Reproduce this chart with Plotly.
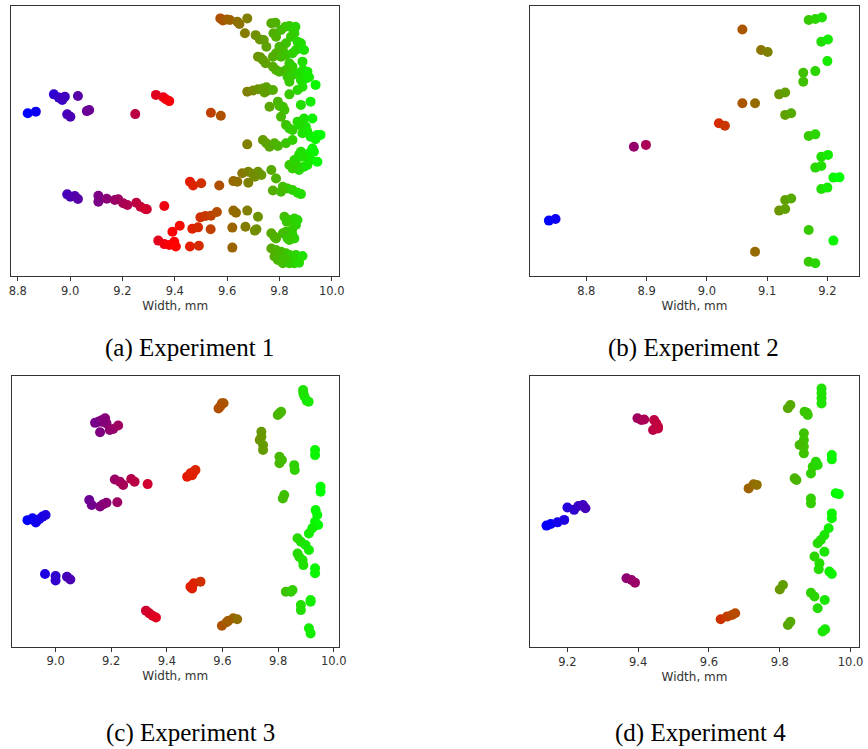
import plotly.graph_objects as go

# ---------------- data ----------------
# Experiment 1
x1 = [8.838, 8.869, 8.938, 8.957, 8.970, 8.980, 9.030, 8.989, 9.001, 9.064, 9.073, 9.249,
      9.328, 9.356, 9.366, 9.379, 9.538, 9.576,
      8.989, 9.001, 9.018, 9.030, 9.108, 9.108, 9.140, 9.171, 9.184, 9.203, 9.219, 9.253,
      9.269, 9.287, 9.293, 9.360,
      9.337, 9.360, 9.379, 9.398, 9.404, 9.391, 9.419, 9.458, 9.492, 9.467, 9.489, 9.537,
      9.498, 9.517, 9.538, 9.561, 9.458, 9.470, 9.501, 9.570,
      9.624, 9.634, 9.677, 9.620, 9.670, 9.706, 9.712, 9.620, 9.718,
      9.624, 9.639, 9.681, 9.658, 9.681, 9.699, 9.718, 9.731, 9.706, 9.769,
      9.787, 9.813, 9.831, 9.850, 9.869, 9.882, 9.775, 9.806,
      9.677, 9.737, 9.750, 9.762, 9.781, 9.794, 9.825,
      9.838, 9.857, 9.875, 9.882, 9.901, 9.913, 9.926, 9.932, 9.919, 9.945, 9.894, 9.875,
      9.863, 9.907, 9.888, 9.850,
      9.838, 9.794, 9.800, 9.813, 9.762, 9.819, 9.882, 9.919, 9.806, 9.825, 9.838, 9.850,
      9.869, 9.875, 9.894, 9.901, 9.926, 9.888, 9.907, 9.919, 9.945, 9.957, 9.938, 9.850,
      9.882,
      9.677, 9.699, 9.718, 9.737, 9.750, 9.756, 9.775, 9.743,
      9.769, 9.785, 9.777, 9.787, 9.806, 9.823, 9.838, 9.850, 9.861, 9.857, 9.844, 9.869,
      9.882, 9.825, 9.800, 9.813, 9.787, 9.775, 9.806, 9.825, 9.850, 9.863, 9.894, 9.838,
      9.850, 9.825, 9.787, 9.800, 9.775, 9.831, 9.850, 9.875, 9.888, 9.890, 9.907, 9.882,
      9.901, 9.913, 9.888, 9.869, 9.938, 9.838,
      9.574, 9.584, 9.599, 9.611, 9.639, 9.647, 9.677, 9.668, 9.709, 9.725, 9.740, 9.750,
      9.718, 9.727, 9.737, 9.747,
      9.819, 9.828, 9.838, 9.857, 9.869, 9.863, 9.848, 9.825, 9.813, 9.850, 9.831, 9.857,
      9.838, 9.769, 9.781, 9.787,
      9.769, 9.787, 9.806, 9.825, 9.838, 9.850, 9.863, 9.888, 9.781, 9.794, 9.813, 9.838,
      9.857, 9.875, 9.800, 9.819]
y1 = [60.2, 60.8, 67.2, 66.0, 65.1, 66.3, 66.6, 59.8, 58.9, 61.0, 61.4, 59.9,
      67.0, 66.1, 65.4, 64.7, 60.4, 59.3,
      30.2, 29.3, 29.6, 28.5, 29.7, 27.5, 28.6, 28.1, 28.4, 26.9, 26.3, 27.1,
      25.6, 24.8, 24.7, 25.9,
      13.1, 11.8, 11.5, 12.7, 10.9, 16.4, 18.6, 10.9, 11.2, 17.5, 18.0, 17.3,
      21.7, 22.2, 22.3, 23.7, 34.9, 33.5, 34.3, 33.5,
      24.2, 23.4, 24.2, 17.9, 18.2, 16.8, 17.3, 10.5, 21.9,
      35.1, 34.9, 34.5, 38.0, 38.6, 37.7, 38.6, 37.4, 36.7, 39.2,
      36.1, 33.0, 32.4, 31.8, 30.8, 30.3, 31.6, 31.2,
      48.7, 50.3, 49.1, 47.8, 49.1, 48.1, 49.1,
      41.1, 42.9, 44.8, 46.0, 44.1, 45.4, 47.2, 46.0, 42.9, 42.3, 40.4, 39.2,
      41.7, 41.1, 44.1, 39.8,
      67.2, 64.5, 62.9, 62.6, 62.6, 61.4, 63.3, 64.5, 58.9, 55.9, 54.6, 54.0,
      57.1, 55.9, 58.3, 55.2, 58.3, 52.8, 53.4, 51.5, 52.2, 52.2, 50.6, 50.3,
      55.9,
      68.2, 68.6, 69.1, 69.4, 69.8, 68.6, 68.8, 67.9,
      93.5, 93.7, 89.8, 88.5, 91.0, 92.2, 92.5, 91.6, 92.2, 89.8, 88.5, 86.7,
      86.1, 86.1, 84.8, 83.6, 82.4, 81.1, 81.1, 81.8, 82.4, 83.6, 83.6, 78.7,
      77.4, 76.2, 76.2, 75.6, 77.4, 73.7, 74.4, 75.0, 79.3, 76.2, 75.6, 72.5,
      73.1, 73.5, 70.0, 68.8, 70.7, 71.9,
      95.3, 94.5, 94.9, 94.7, 94.1, 93.2, 95.3, 89.8, 89.1, 87.5, 87.3, 84.8,
      81.1, 80.9, 79.9, 78.7,
      21.9, 20.1, 20.7, 21.3, 20.7, 18.9, 17.0, 16.4, 15.8, 15.2, 13.9, 13.9,
      13.3, 15.8, 14.5, 13.9,
      10.2, 9.6, 9.0, 8.4, 7.8, 7.2, 7.8, 7.4, 7.2, 5.9, 4.7, 4.7,
      4.7, 4.9, 7.8, 6.5]

# Experiment 2
x2 = [9.169, 9.180, 9.191, 9.059, 9.190, 9.201, 9.090, 9.101, 9.200, 9.160, 9.160, 9.180,
      9.120, 9.130, 9.059, 9.080, 9.130, 9.140, 9.020, 9.030, 9.169, 9.180, 8.879, 8.899,
      9.190, 9.201, 9.180, 9.190, 9.210, 9.220, 9.190, 9.200, 9.130, 9.140, 9.120, 9.130,
      8.738, 8.749, 9.169, 9.210, 9.080, 9.169, 9.180]
y2 = [94.7, 95.1, 95.6, 91.2, 86.7, 87.5, 83.6, 82.9, 79.5, 75.2, 71.9, 75.8,
      67.2, 67.9, 63.9, 63.9, 59.6, 60.2, 56.5, 55.6, 51.8, 52.4, 47.8, 48.5,
      44.1, 44.8, 40.1, 40.7, 36.4, 36.5, 32.2, 32.7, 28.1, 28.7, 24.2, 24.8,
      20.5, 21.1, 17.0, 13.1, 9.0, 5.3, 4.7]

# Experiment 3
x3 = [9.890, 9.891, 9.895, 9.903, 9.910,
      9.586, 9.598, 9.604, 9.592,
      9.799, 9.811, 9.805,
      9.154, 9.166, 9.178, 9.166, 9.183, 9.160, 9.195, 9.207, 9.225, 9.142, 9.172,
      9.740, 9.740, 9.734, 9.746, 9.746,
      9.933, 9.933,
      9.805, 9.805, 9.814,
      9.858, 9.860,
      9.473, 9.485, 9.497, 9.503, 9.491,
      9.213, 9.231, 9.243, 9.272, 9.284, 9.331,
      9.953, 9.953,
      9.822, 9.817,
      9.121, 9.130, 9.160, 9.172, 9.183, 9.222,
      8.899, 8.917, 8.929, 8.941, 8.953, 8.964,
      9.935, 9.941, 9.933, 9.944, 9.923, 9.911,
      9.870, 9.882, 9.899, 9.911, 9.870, 9.876, 9.888, 9.891,
      9.933, 9.933,
      8.962, 9.000, 9.000, 9.041, 9.053,
      9.485, 9.497, 9.521, 9.491,
      9.828, 9.846, 9.852,
      9.882, 9.882, 9.917, 9.917,
      9.325, 9.337, 9.349, 9.361,
      9.598, 9.615, 9.639, 9.653, 9.621,
      9.911, 9.917]
y3 = [94.7, 93.5, 92.3, 90.8, 90.4,
      87.9, 89.8, 89.8, 88.6,
      85.5, 86.7, 86.1,
      83.0, 83.6, 84.3, 83.0, 82.4, 79.1, 80.0, 80.3, 81.6, 82.6, 83.5,
      79.3, 77.5, 76.3, 74.4, 72.6,
      72.6, 70.7,
      70.1, 67.7, 68.9,
      67.0, 65.2,
      62.7, 64.0, 64.6, 65.2, 63.3,
      61.7, 60.9, 59.7, 61.9, 60.9, 60.0,
      59.0, 57.2,
      56.0, 54.7,
      54.1, 52.3, 51.7, 52.6, 53.1, 53.3,
      46.7, 47.4, 45.8, 47.0, 48.0, 48.6,
      50.4, 48.6, 46.1, 44.9, 43.7, 41.8,
      40.0, 38.7, 37.5, 35.7, 34.4, 33.2, 32.0, 30.1,
      28.9, 27.1,
      26.8, 26.1, 24.4, 25.8, 24.8,
      22.1, 23.4, 24.0, 21.5,
      20.3, 20.3, 20.9,
      15.4, 13.5, 17.2, 16.6,
      13.3, 12.3, 11.4, 10.8,
      7.7, 9.0, 10.5, 10.1, 9.6,
      6.8, 4.9]

# Experiment 4
x4 = [9.918, 9.918, 9.918, 9.918,
      9.823, 9.830,
      9.870, 9.879, 9.876,
      9.398, 9.409, 9.417,
      9.445, 9.451, 9.456, 9.442, 9.456,
      9.868, 9.868, 9.868, 9.868, 9.856,
      9.947, 9.947,
      9.902, 9.893, 9.888, 9.907,
      9.842, 9.847,
      9.712, 9.726, 9.735,
      9.958, 9.967,
      9.888, 9.888,
      9.200, 9.219, 9.231, 9.244, 9.251,
      9.141, 9.153, 9.172, 9.191,
      9.947, 9.947,
      9.938, 9.926, 9.916, 9.907, 9.926, 9.898, 9.912, 9.910, 9.940, 9.947,
      9.367, 9.381, 9.391,
      9.800, 9.809,
      9.888, 9.898,
      9.927, 9.907,
      9.633, 9.651, 9.665, 9.674,
      9.823, 9.830,
      9.921, 9.928]
y4 = [95.3, 93.5, 91.7, 89.8,
      88.0, 89.2,
      86.7, 85.5, 86.4,
      84.3, 83.7, 83.9,
      83.7, 82.5, 81.2, 80.0, 80.6,
      78.8, 76.3, 73.9, 71.4, 74.5,
      70.8, 69.2,
      68.3, 66.5, 64.0, 67.1,
      62.2, 61.6,
      58.5, 60.0, 59.8,
      56.7, 56.4,
      54.8, 53.0,
      51.5, 50.6, 52.0, 52.4, 51.2,
      44.8, 45.4, 46.0, 46.9,
      49.3, 47.5,
      43.8, 41.3, 39.5, 38.3, 35.2, 33.4, 30.9, 28.7, 27.9, 27.0,
      25.4, 24.8, 23.8,
      21.3, 22.9,
      20.1, 18.7,
      17.4, 14.4,
      10.3, 11.3, 11.9, 12.5,
      8.2, 9.4,
      5.8, 6.6]

captions = ["(a) Experiment 1", "(b) Experiment 2", "(c) Experiment 3", "(d) Experiment 4"]
x_title = "Width, mm"

# ---------------- figure ----------------
brg = [[0.0, "rgb(0,0,255)"], [0.5, "rgb(255,0,0)"], [1.0, "rgb(0,255,0)"]]

panels = [
    dict(x=x1, y=y1, xr=[8.775, 10.029], dt=0.2, dx=[0.0096, 0.3925], dy=[0.6315, 0.9924]),
    dict(x=x2, y=y2, xr=[8.707, 9.252], dt=0.1, dx=[0.6152, 0.9985], dy=[0.6315, 0.9924]),
    dict(x=x3, y=y3, xr=[8.843, 10.018], dt=0.2, dx=[0.0104, 0.3917], dy=[0.1366, 0.4984]),
    dict(x=x4, y=y4, xr=[9.095, 10.023], dt=0.2, dx=[0.6152, 0.9985], dy=[0.1358, 0.4984]),
]

fig = go.Figure()
layout = {}
for i, p in enumerate(panels, start=1):
    sfx = "" if i == 1 else str(i)
    fig.add_trace(go.Scatter(
        x=p["x"], y=p["y"], mode="markers",
        xaxis="x" + sfx, yaxis="y" + sfx, showlegend=False,
        marker=dict(size=10, color=p["x"], colorscale=brg,
                    cmin=min(p["x"]), cmax=max(p["x"]),
                    line=dict(width=0), opacity=1),
    ))
    layout["xaxis" + sfx] = dict(
        domain=p["dx"], range=p["xr"], anchor="y" + sfx,
        dtick=p["dt"], tick0=8.8, tickformat=".1f",
        ticks="outside", ticklen=4, tickwidth=1, tickcolor="#333",
        showline=True, mirror=True, linecolor="#333", linewidth=1,
        showgrid=False, zeroline=False,
        tickfont=dict(family="DejaVu Sans", size=11.5, color="#333"),
        title=dict(text=x_title, standoff=4,
                   font=dict(family="DejaVu Sans", size=12, color="#333")),
    )
    layout["yaxis" + sfx] = dict(
        domain=p["dy"], range=[0, 100], anchor="x" + sfx,
        showticklabels=False, ticks="",
        showline=True, mirror=True, linecolor="#333", linewidth=1,
        showgrid=False, zeroline=False,
    )

fig.update_layout(
    width=868, height=749,
    margin=dict(l=0, r=0, t=0, b=0),
    paper_bgcolor="white", plot_bgcolor="white",
    **layout,
)

cap_pos = [(0.2177, 0.5354, "middle"), (0.8053, 0.5354, "middle"),
           (0.2189, 0.0, "bottom"), (0.8142, 0.0, "bottom")]
for txt, (cx, cy, ya) in zip(captions, cap_pos):
    fig.add_annotation(text=txt, x=cx, y=cy, xref="paper", yref="paper",
                       xanchor="center", yanchor=ya, showarrow=False,
                       font=dict(family="Liberation Serif", size=25, color="black"))

fig.write_html("out.html",
               config={"displayModeBar": False},
               post_script="document.body.style.margin='0';"
                           "document.body.style.overflow='hidden';")
